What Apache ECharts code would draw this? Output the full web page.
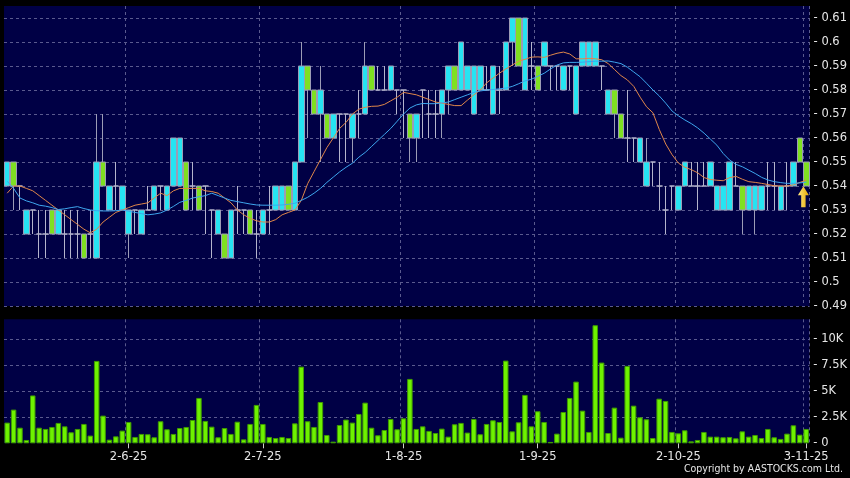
<!DOCTYPE html>
<html><head><meta charset="utf-8">
<script src="https://cdn.jsdelivr.net/npm/echarts@6/dist/echarts.min.js"></script>
<style>html,body{margin:0;padding:0;background:#000}#c{width:850px;height:478px}</style>
</head><body><div id="c"></div>
<script>
const categories = [
'6-5-25','7-5-25','8-5-25','9-5-25','12-5-25','13-5-25','14-5-25','15-5-25','16-5-25','19-5-25','20-5-25','21-5-25','22-5-25','23-5-25','26-5-25','27-5-25','28-5-25','29-5-25','30-5-25',
'2-6-25','3-6-25','4-6-25','5-6-25','6-6-25','9-6-25','10-6-25','11-6-25','12-6-25','13-6-25','16-6-25','17-6-25','18-6-25','19-6-25','20-6-25','23-6-25','24-6-25','25-6-25','26-6-25','27-6-25','30-6-25',
'2-7-25','3-7-25','4-7-25','7-7-25','8-7-25','9-7-25','10-7-25','11-7-25','14-7-25','15-7-25','16-7-25','17-7-25','18-7-25','21-7-25','22-7-25','23-7-25','24-7-25','25-7-25','28-7-25','29-7-25','30-7-25','31-7-25',
'1-8-25','4-8-25','5-8-25','6-8-25','7-8-25','8-8-25','11-8-25','12-8-25','13-8-25','14-8-25','15-8-25','18-8-25','19-8-25','20-8-25','21-8-25','22-8-25','25-8-25','26-8-25','27-8-25','28-8-25','29-8-25',
'1-9-25','2-9-25','3-9-25','4-9-25','5-9-25','8-9-25','9-9-25','10-9-25','11-9-25','12-9-25','15-9-25','16-9-25','17-9-25','18-9-25','19-9-25','22-9-25','23-9-25','24-9-25','25-9-25','26-9-25','29-9-25','30-9-25',
'2-10-25','3-10-25','6-10-25','8-10-25','9-10-25','10-10-25','13-10-25','14-10-25','15-10-25','16-10-25','17-10-25','20-10-25','21-10-25','22-10-25','23-10-25','24-10-25','27-10-25','28-10-25','30-10-25','31-10-25',
'3-11-25'];
const tickLabels = ['2-6-25','2-7-25','1-8-25','1-9-25','2-10-25','3-11-25'];

const opens = [0.54,0.55,0.54,0.52,0.53,0.52,0.52,0.53,0.52,0.52, 0.52,0.52,0.52,0.52,0.51,0.55,0.53,0.54,0.53,0.52,
0.53,0.52,0.53,0.53,0.54,0.53,0.54,0.54,0.55,0.54, 0.54,0.54,0.53,0.52,0.52,0.51,0.53,0.53,0.53,0.52,
0.52,0.53,0.53,0.53,0.54,0.53,0.55,0.59,0.58,0.57, 0.57,0.56,0.57,0.57,0.56,0.57,0.57,0.59,0.58,0.58,
0.58,0.58,0.58,0.57,0.56,0.58,0.57,0.57,0.57,0.58, 0.59,0.58,0.58,0.57,0.58,0.58,0.57,0.58,0.58,0.60,
0.61,0.58,0.59,0.59,0.59,0.59,0.59,0.58,0.59,0.57, 0.59,0.59,0.59,0.59,0.57,0.58,0.57,0.56,0.56,0.55,
0.54,0.55,0.54,0.53,0.54,0.53,0.54,0.54,0.54,0.54, 0.54,0.53,0.53,0.53,0.54,0.54,0.53,0.53,0.53,0.54,
0.54,0.53,0.54,0.54,0.56,0.55];
const closes = [0.55,0.54,0.54,0.53,0.53,0.52,0.52,0.52,0.53,0.52, 0.52,0.52,0.51,0.52,0.55,0.54,0.54,0.54,0.54,0.53,
0.53,0.53,0.53,0.54,0.54,0.54,0.56,0.56,0.53,0.54, 0.53,0.54,0.53,0.53,0.51,0.53,0.53,0.53,0.52,0.52,
0.53,0.53,0.54,0.54,0.53,0.55,0.59,0.58,0.57,0.58, 0.56,0.57,0.57,0.57,0.57,0.57,0.59,0.58,0.58,0.58,
0.59,0.58,0.58,0.56,0.57,0.58,0.57,0.57,0.58,0.59, 0.58,0.60,0.59,0.59,0.59,0.58,0.59,0.58,0.60,0.61,
0.59,0.61,0.59,0.58,0.60,0.59,0.59,0.59,0.59,0.59, 0.60,0.60,0.60,0.59,0.58,0.57,0.56,0.56,0.56,0.56,
0.55,0.55,0.54,0.53,0.54,0.54,0.55,0.54,0.54,0.54, 0.55,0.54,0.54,0.55,0.54,0.53,0.54,0.54,0.54,0.54,
0.54,0.54,0.54,0.55,0.55,0.54];
const lows = [0.54,0.53,0.53,0.52,0.52,0.51,0.51,0.52,0.52,0.51, 0.51,0.51,0.51,0.51,0.51,0.54,0.53,0.53,0.53,0.51,
0.52,0.52,0.53,0.53,0.53,0.53,0.54,0.54,0.53,0.53, 0.53,0.52,0.51,0.52,0.51,0.51,0.52,0.52,0.52,0.51,
0.52,0.52,0.53,0.53,0.53,0.53,0.55,0.56,0.57,0.55, 0.56,0.56,0.55,0.55,0.55,0.56,0.57,0.58,0.58,0.58,
0.58,0.57,0.56,0.55,0.55,0.56,0.56,0.56,0.56,0.57, 0.58,0.58,0.58,0.57,0.58,0.58,0.57,0.57,0.58,0.59,
0.59,0.58,0.58,0.58,0.59,0.58,0.58,0.58,0.58,0.57, 0.59,0.59,0.59,0.58,0.57,0.56,0.56,0.55,0.55,0.55,
0.54,0.54,0.53,0.52,0.53,0.53,0.54,0.54,0.53,0.54, 0.54,0.53,0.53,0.53,0.54,0.52,0.53,0.52,0.53,0.53,
0.53,0.53,0.53,0.54,0.55,0.54];
const highs = [0.55,0.55,0.54,0.53,0.53,0.53,0.53,0.53,0.53,0.53, 0.53,0.53,0.52,0.53,0.57,0.57,0.54,0.55,0.54,0.53,
0.53,0.53,0.54,0.54,0.54,0.54,0.56,0.56,0.55,0.55, 0.54,0.54,0.53,0.53,0.52,0.53,0.54,0.53,0.53,0.53,
0.53,0.54,0.54,0.54,0.54,0.55,0.60,0.59,0.58,0.59, 0.57,0.57,0.57,0.57,0.57,0.58,0.60,0.59,0.59,0.59,
0.59,0.58,0.58,0.57,0.57,0.58,0.58,0.58,0.58,0.59, 0.59,0.60,0.59,0.59,0.59,0.59,0.59,0.59,0.60,0.61,
0.61,0.61,0.60,0.59,0.60,0.59,0.59,0.59,0.59,0.59, 0.60,0.60,0.60,0.59,0.58,0.58,0.57,0.58,0.56,0.56,
0.56,0.55,0.55,0.54,0.54,0.54,0.55,0.55,0.55,0.55, 0.55,0.54,0.54,0.55,0.55,0.54,0.54,0.54,0.54,0.55,
0.55,0.54,0.55,0.55,0.56,0.55];
const maShort = [0.537,0.540,0.540,0.539,0.538,0.536,0.534,0.532,0.530,0.528, 0.526,0.524,0.522,0.5205,0.522,0.525,0.527,0.529,0.530,0.531,
0.532,0.5325,0.533,0.535,0.537,0.536,0.538,0.539,0.539,0.539, 0.539,0.538,0.5377,0.537,0.535,0.533,0.530,0.528,0.5265,0.5255,
0.525,0.525,0.526,0.528,0.529,0.530,0.534,0.541,0.546,0.551, 0.556,0.560,0.564,0.5665,0.570,0.572,0.5728,0.5732,0.5733,0.574,
0.5755,0.577,0.579,0.5785,0.578,0.577,0.576,0.575,0.5745,0.574, 0.5735,0.5735,0.5758,0.578,0.580,0.583,0.585,0.587,0.5888,0.5904,
0.592,0.5928,0.5937,0.5938,0.5936,0.5945,0.5953,0.5958,0.595,0.593, 0.593,0.5932,0.593,0.5926,0.591,0.5885,0.586,0.5842,0.5815,0.577,
0.573,0.5705,0.5635,0.5575,0.553,0.5495,0.5478,0.5468,0.5455,0.5435, 0.5427,0.5424,0.5422,0.5435,0.544,0.5428,0.5418,0.5415,0.5411,0.5406,
0.5401,0.540,0.540,0.5405,0.5415,0.5425];
const maLong = [0.542,0.539,0.535,0.5338,0.533,0.532,0.5316,0.531,0.5302,0.5305, 0.531,0.5314,0.5306,0.530,0.5297,0.5296,0.5296,0.5297,0.530,0.5295,
0.529,0.5285,0.528,0.5283,0.5288,0.530,0.5315,0.5332,0.534,0.535, 0.5355,0.536,0.537,0.536,0.535,0.534,0.5335,0.533,0.5325,0.5321,
0.532,0.532,0.532,0.5321,0.5324,0.5328,0.534,0.5353,0.537,0.539, 0.5415,0.5437,0.5459,0.5478,0.5495,0.552,0.554,0.5565,0.559,0.5615,
0.564,0.567,0.570,0.5725,0.5738,0.5744,0.5743,0.5743,0.5746,0.575, 0.576,0.577,0.578,0.579,0.5796,0.580,0.5802,0.5805,0.5808,0.5815,
0.5826,0.5838,0.5845,0.5857,0.587,0.5888,0.5904,0.5913,0.5915,0.5915, 0.5916,0.5918,0.592,0.592,0.5921,0.5916,0.591,0.5895,0.5875,0.5855,
0.5828,0.580,0.5775,0.5745,0.5712,0.5692,0.5675,0.566,0.5642,0.562, 0.5595,0.557,0.5535,0.5508,0.549,0.548,0.5466,0.5452,0.5436,0.5425,
0.5418,0.5414,0.5411,0.5411,0.5413,0.5416];
const volumesK = [1.99,3.24,1.5,0.32,4.6,1.5,1.38,1.57,1.96,1.63, 1.06,1.38,1.86,0.74,7.92,2.66,0.35,0.67,1.22,2.05,
0.61,0.9,0.87,0.58,2.12,1.35,0.9,1.47,1.57,2.24, 4.36,2.15,1.6,0.58,1.47,0.9,2.08,0.38,1.86,3.69,
1.86,0.61,0.51,0.61,0.51,1.92,7.37,2.12,1.57,3.97, 0.8,0.16,1.76,2.28,1.99,2.82,3.91,1.5,0.77,1.28,
2.34,1.35,2.4,6.19,1.38,1.63,1.19,0.99,1.41,0.64, 1.83,1.96,1.03,2.34,0.87,1.86,2.21,2.05,7.95,1.15,
2.02,4.65,1.63,3.08,2.05,0.13,0.93,3.01,4.36,5.93, 3.14,1.09,11.35,7.76,0.99,3.43,0.54,7.44,3.62,2.5,
2.31,0.51,4.29,4.07,1.09,0.96,1.25,0.19,0.32,1.09, 0.64,0.64,0.58,0.61,0.48,1.15,0.64,0.8,0.51,1.38,
0.58,0.42,0.93,1.73,0.83,1.38];
const priceTicks = {min: 0.49, max: 0.615, step: 0.01};
const volTicks = {min: 0, max: 11.92, step: 2.5};

const candleData = opens.map((o, i) => [o, closes[i], lows[i], highs[i]]);
const tickSet = new Set(tickLabels);
const FONT = 'DejaVu Sans';
const gridLine = {show: true, lineStyle: {color: '#5a5a8e', type: [3, 3], width: 1}};
const xSplit = {show: true, interval: (i) => tickSet.has(categories[i]), lineStyle: {color: '#5a5a8e', type: [3, 3], width: 1}};

const chart = echarts.init(document.getElementById('c'), null, {renderer: 'canvas'});
chart.setOption({
  backgroundColor: '#000000',
  animation: false,
  grid: [
    {left: 4, right: 36.5, top: 6, height: 300, show: true, backgroundColor: '#000045', borderWidth: 0},
    {left: 4, right: 36.5, top: 319.3, height: 124, show: true, backgroundColor: '#000045', borderWidth: 0}
  ],
  xAxis: [
    {type: 'category', gridIndex: 0, data: categories, boundaryGap: true,
     axisLine: {show: false}, axisTick: {show: false}, axisLabel: {show: false}, splitLine: xSplit},
    {type: 'category', gridIndex: 1, data: categories, boundaryGap: true,
     axisLine: {show: false},
     axisTick: {show: true, alignWithLabel: true, interval: (i) => tickSet.has(categories[i]), length: 5, lineStyle: {color: '#cccccc'}},
     axisLabel: {show: true, interval: (i) => tickSet.has(categories[i]), color: '#e6e6e6', fontFamily: FONT, fontSize: 11.5, margin: 8},
     splitLine: xSplit}
  ],
  yAxis: [
    {type: 'value', gridIndex: 0, position: 'right', min: priceTicks.min, max: priceTicks.max, interval: priceTicks.step,
     axisLine: {show: false}, axisTick: {show: false},
     axisLabel: {showMaxLabel: false, margin: 4, color: '#e6e6e6', fontFamily: FONT, fontSize: 11.5, formatter: v => '- ' + v},
     splitLine: Object.assign({showMaxLine: false}, gridLine)},
    {type: 'value', gridIndex: 1, position: 'right', min: volTicks.min, max: volTicks.max, interval: volTicks.step,
     axisLine: {show: false}, axisTick: {show: false},
     axisLabel: {showMaxLabel: false, margin: 4, color: '#e6e6e6', fontFamily: FONT, fontSize: 11.5, formatter: v => '- ' + (v === 0 ? '0' : v + 'K')},
     splitLine: Object.assign({showMaxLine: false, showMinLine: false}, gridLine)}
  ],
  series: [
    {type: 'candlestick', xAxisIndex: 0, yAxisIndex: 0, data: candleData, barWidth: 6,
     itemStyle: {color: '#26e4f2', color0: '#7fe021', borderColor: '#9c9cb6', borderColor0: '#9c9cb6', borderColorDoji: '#b4b4cc', borderWidth: 1},
     markPoint: {silent: true, data: [{coord: [categories.length - 1, 0.5355], symbol: 'path://M5,0 L10,6 L7,6 L7,14 L3,14 L3,6 L0,6 Z', symbolSize: [11, 21], symbolOffset: [-3, 0],
       itemStyle: {color: {type: 'linear', x: 0, y: 0, x2: 1, y2: 0, colorStops: [{offset: 0, color: '#ffe680'}, {offset: 1, color: '#e6a800'}]}}, label: {show: false}}]}},
    {type: 'line', xAxisIndex: 0, yAxisIndex: 0, data: maShort, symbol: 'none', lineStyle: {color: '#e0874a', width: 1}, z: 5},
    {type: 'line', xAxisIndex: 0, yAxisIndex: 0, data: maLong, symbol: 'none', lineStyle: {color: '#3ea6ee', width: 1}, z: 5},
    {type: 'bar', xAxisIndex: 1, yAxisIndex: 1, data: volumesK, barWidth: 5.5,
     itemStyle: {color: '#6ef200', borderColor: '#3f9a00', borderWidth: 1}}
  ],
  graphic: [
    {type: 'text', right: 7, top: 464, style: {text: 'Copyright by AASTOCKS.com Ltd.', fill: '#e6e6e6', font: '10.5px "DejaVu Sans Condensed", "DejaVu Sans"'}}
  ]
});
</script></body></html>
